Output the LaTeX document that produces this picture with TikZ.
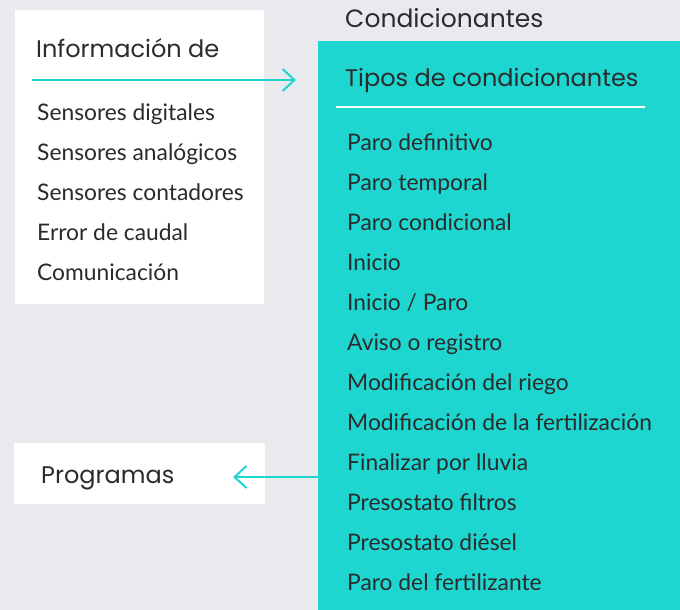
\documentclass[tikz,border=0pt]{standalone}
\usepackage{fontspec}
\setmainfont{Lato}
\newfontfamily\headfont{Poppins}
\usetikzlibrary{arrows.meta}
\definecolor{bggray}{HTML}{E9EAEE}
\definecolor{teal}{HTML}{1ED6D0}
\definecolor{txt}{HTML}{2B2B2B}
\tikzset{
  head/.style={anchor=base west, inner sep=0pt, font=\headfont\fontsize{24}{28}\selectfont, text=txt},
  item/.style={anchor=base west, inner sep=0pt, font=\fontsize{22.8}{26}\selectfont, text=txt},
  arr/.style={draw=teal, line width=2pt, -{Straight Barb[length=12pt,width=22pt,line width=2pt]}},
}
\begin{document}
\begin{tikzpicture}[x=1pt,y=-1pt]
\fill[bggray] (0,0) rectangle (680,610);
\useasboundingbox (0,0) rectangle (680,610);
\fill[white] (15,10) rectangle (264,304);
\fill[white] (14,443) rectangle (265,504);
\fill[teal] (318,41) rectangle (680,610);
\coordinate (teal) at (318,477);
\node[head, font=\headfont\fontsize{25}{28}\selectfont] (cond) at (345,28) {Condicionantes};
\node[head] (info) at (36,58) {Información de};
\node[head] (tipos) at (345,87) {Tipos de condicionantes};
\draw[white, line width=2pt] (336,107) -- (645,107);
\coordinate (a1) at (32,80);
\coordinate (a2) at (296,80);
\draw[arr] (a1) -- (a2);
\node[item] (s1) at (37,120) {Sensores digitales};
\node[item] (s2) at (37,160) {Sensores analógicos};
\node[item] (s3) at (37,200) {Sensores contadores};
\node[item] (s4) at (37,240) {Error de caudal};
\node[item] (s5) at (37,280) {Comunicación};
\node[head] (prog) at (41,483) {Programas};
\coordinate (p1) at (233,477);
\draw[arr] (teal) -- (p1);
\node[item] (c1) at (347,150) {Paro definitivo};
\node[item] (c2) at (347,190) {Paro temporal};
\node[item] (c3) at (347,230) {Paro condicional};
\node[item] (c4) at (347,270) {Inicio};
\node[item] (c5) at (347,310) {Inicio / Paro};
\node[item] (c6) at (347,350) {Aviso o registro};
\node[item] (c7) at (347,390) {Modificación del riego};
\node[item] (c8) at (347,430) {Modificación de la fertilización};
\node[item] (c9) at (347,470) {Finalizar por lluvia};
\node[item] (c10) at (347,510) {Presostato filtros};
\node[item] (c11) at (347,550) {Presostato diésel};
\node[item] (c12) at (347,590) {Paro del fertilizante};
\end{tikzpicture}
\end{document}
